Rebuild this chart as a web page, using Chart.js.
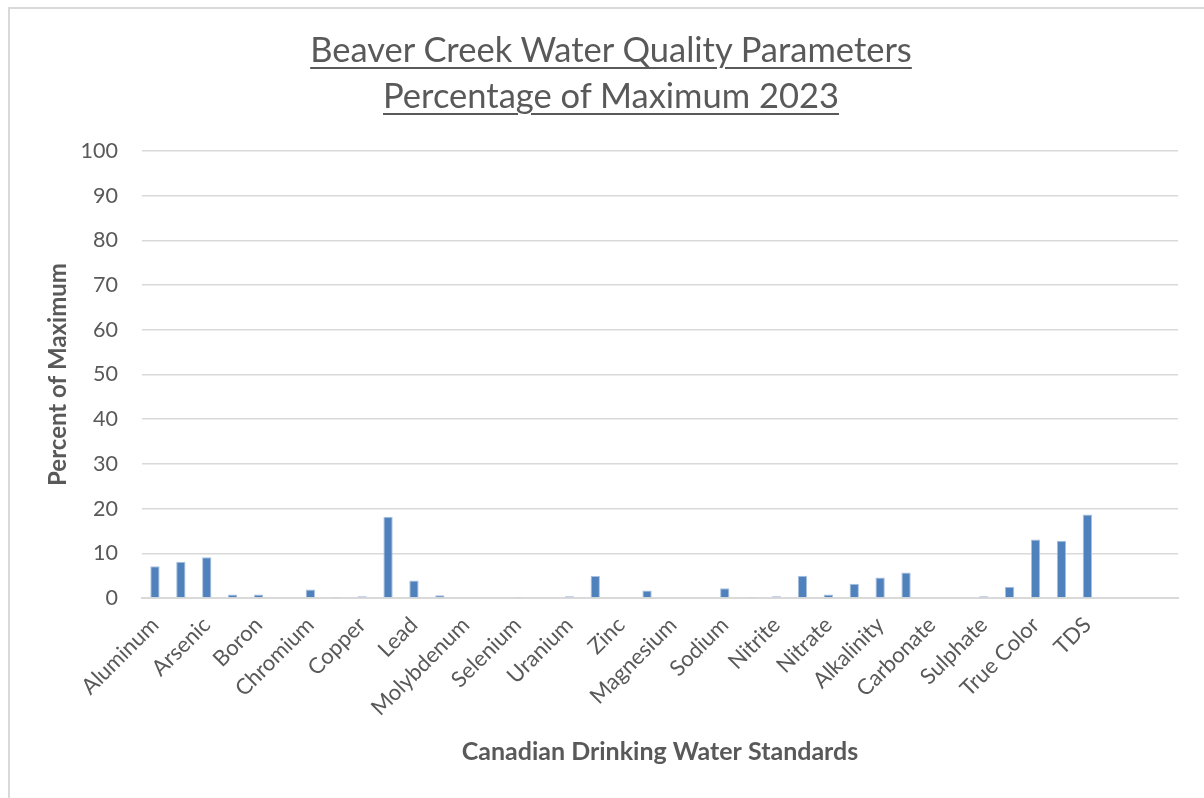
<!DOCTYPE html>
<html>
<head>
<meta charset="utf-8">
<script src="https://cdn.jsdelivr.net/npm/chart.js@4.4.0/dist/chart.umd.min.js"></script>
<style>
  html, body { margin: 0; padding: 0; background: #fff; overflow: hidden; }
  #frame {
    position: absolute; left: 8px; top: 7px; width: 1300px; height: 900px;
    border-left: 2px solid #d9d9d9; border-top: 2px solid #d9d9d9;
  }
  #title {
    position: absolute; left: 0; top: 26px; width: 1222px; text-align: center;
    font-family: Lato, "Open Sans", sans-serif; font-size: 34.5px; line-height: 46px;
    color: #595959; text-decoration: underline; text-underline-offset: 5px;
    text-decoration-thickness: 1.5px;
  }
  #wrap { position: absolute; left: 0; top: 0; width: 1204px; height: 798px; }
</style>
</head>
<body>
<div id="frame"></div>
<div id="wrap"><canvas id="chart"></canvas></div>
<div id="title">Beaver Creek Water Quality Parameters<br>Percentage of Maximum 2023</div>
<script>
const categories = [
  "Aluminum", "Antimony", "Arsenic", "Barium", "Boron", "Cadmium", "Chromium", "Cobalt",
  "Copper", "Iron", "Lead", "Manganese", "Molybdenum", "Nickel", "Selenium", "Strontium",
  "Uranium", "Vanadium", "Zinc", "Calcium", "Magnesium", "Potassium", "Sodium", "Ammonia",
  "Nitrite", "Nitrate+Nitrite", "Nitrate", "Phosphorus", "Alkalinity", "Bicarbonate", "Carbonate", "Chloride",
  "Sulphate", "Fluoride", "True Color", "Turbidity", "TDS", "pH", "", ""
];

const percentOfMax = [
  7.1, 8.1, 9.1, 0.8, 0.8, 0, 1.9, 0.1,
  0.4, 18.2, 3.9, 0.6, 0, 0, 0.1, 0,
  0.4, 4.9, 0, 1.7, 0, 0, 2.2, 0.1,
  0.4, 5.0, 0.8, 3.2, 4.6, 5.7, 0, 0,
  0.4, 2.5, 13.1, 12.8, 18.7, 0, 0, 0
];

const yTicks = [0, 10, 20, 30, 40, 50, 60, 70, 80, 90, 100];

const textColor = "#595959";
const gridColor = "#d9d9d9";
const fontFamily = "Lato, 'Open Sans', sans-serif";

new Chart(document.getElementById("chart"), {
  type: "bar",
  data: {
    labels: categories,
    datasets: [{
      label: "Percent of Maximum",
      data: percentOfMax,
      backgroundColor: "#4f81bd",
      borderColor: "#a9c1e0",
      borderWidth: { left: 1, right: 1, top: 1, bottom: 0 },
      barPercentage: 0.36,
      categoryPercentage: 1,
    }],
  },
  options: {
    responsive: true,
    maintainAspectRatio: false,
    animation: false,
    layout: { padding: { left: 40, right: 26, top: 151, bottom: 0 } },
    plugins: { legend: { display: false }, tooltip: { enabled: false } },
    scales: {
      x: {
        afterFit: (scale) => { scale.height = 200; },
        grid: { display: false, drawTicks: false },
        border: { color: gridColor, width: 2 },
        ticks: {
          autoSkip: false,
          minRotation: 45,
          maxRotation: 45,
          padding: 14,
          color: textColor,
          font: { family: fontFamily, size: 22 },
          callback: (val, i) => (i % 2 === 0 ? categories[i] : ""),
        },
        title: {
          display: true,
          text: "Canadian Drinking Water Standards",
          color: textColor,
          font: { family: fontFamily, size: 25, weight: "bold" },
          padding: { top: 4, bottom: 31 },
        },
      },
      y: {
        min: 0,
        max: 100,
        afterFit: (scale) => { scale.width = 102; },
        afterBuildTicks: (scale) => { scale.ticks = yTicks.map((v) => ({ value: v })); },
        grid: { color: gridColor, lineWidth: 1.5, drawTicks: false },
        border: { display: false },
        ticks: {
          padding: 24,
          color: textColor,
          font: { family: fontFamily, size: 21.5 },
        },
        title: {
          display: true,
          text: "Percent of Maximum",
          color: textColor,
          font: { family: fontFamily, size: 24, weight: "bold" },
          padding: { top: 4, bottom: 4 },
        },
      },
    },
  },
});
</script>
</body>
</html>
